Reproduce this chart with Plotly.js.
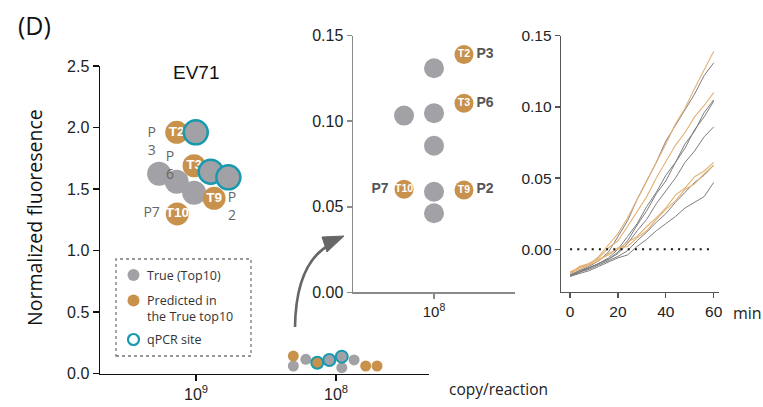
<!DOCTYPE html>
<html><head><meta charset="utf-8">
<script src="https://cdn.plot.ly/plotly-3.0.1.min.js"></script>
<style>html,body{margin:0;padding:0;background:#fff}#c{width:763px;height:407px}</style>
</head><body><div id="c"></div>
<script>
// ---------- data ----------
// Main panel: magnified upper cluster (log10 copy/reaction, normalized fluorescence)
const upGreyLogX = [9.264, 9.138, 9.014];
const upGreyY    = [1.624, 1.559, 1.470];
const upGoldLogX = [9.138, 9.014, 8.871, 9.134];
const upGoldY    = [1.961, 1.689, 1.424, 1.297];
const upGoldLab  = ['T2', 'T3', 'T9', 'T10'];
const upQpcrLogX = [9.002, 8.895, 8.769];
const upQpcrY    = [1.961, 1.641, 1.595];
const upPLab     = ['P<br>3', 'P<br>6', 'P<br>2', 'P7'];
const upPLogX    = [9.317, 9.186, 8.743, 9.317];
const upPY       = [1.880, 1.680, 1.350, 1.297];
// Main panel: bottom cluster near 10^8
const lowGreyLogX = [8.305, 8.216, 7.959, 7.871];
const lowGreyY    = [0.061, 0.115, 0.047, 0.110];
const lowGoldLogX = [8.305, 7.788, 7.707];
const lowGoldY    = [0.142, 0.061, 0.061];
const lowQGoldLogX = [8.134];
const lowQGoldY    = [0.088];
const lowQGreyLogX = [8.048, 7.959];
const lowQGreyY    = [0.110, 0.137];
// Inset
const inGreyLogX = [8, 8, 8, 8, 8, 8.185];
const inGreyY    = [0.131, 0.1047, 0.0857, 0.0588, 0.0462, 0.1033];
const inGoldLogX = [7.815, 7.815, 8.185, 7.815];
const inGoldY    = [0.139, 0.1105, 0.0602, 0.0598];
const inGoldLab  = ['T2', 'T3', 'T10', 'T9'];
const inPLab     = ['P3', 'P6', 'P7', 'P2'];
const inPLogX    = [7.685, 7.685, 8.333, 7.685];
// Time courses (min)
const t = [0,4,8,12,16,20,24,28,32,36,40,44,48,52,56,60];
const goldCurves = [
  [-0.016,-0.013,-0.011,-0.005,0.003,0.011,0.022,0.035,0.047,0.061,0.074,0.088,0.099,0.113,0.126,0.139],
  [-0.017,-0.012,-0.010,-0.006,0.001,0.006,0.016,0.027,0.037,0.050,0.061,0.073,0.082,0.093,0.101,0.110],
  [-0.017,-0.014,-0.011,-0.008,-0.003,0.000,0.005,0.009,0.016,0.022,0.029,0.038,0.043,0.051,0.055,0.061],
  [-0.016,-0.013,-0.010,-0.007,-0.004,0.001,0.002,0.008,0.013,0.021,0.028,0.034,0.042,0.046,0.053,0.059]
];
const greyCurves = [
  [-0.018,-0.015,-0.012,-0.008,-0.002,0.009,0.020,0.035,0.048,0.061,0.076,0.087,0.099,0.109,0.122,0.131],
  [-0.018,-0.016,-0.013,-0.010,-0.006,0.000,0.009,0.018,0.030,0.040,0.052,0.061,0.074,0.083,0.096,0.105],
  [-0.019,-0.016,-0.013,-0.010,-0.007,-0.002,0.006,0.017,0.027,0.039,0.048,0.061,0.071,0.084,0.093,0.104],
  [-0.018,-0.015,-0.013,-0.010,-0.007,-0.003,0.004,0.013,0.021,0.032,0.041,0.050,0.061,0.069,0.079,0.086],
  [-0.019,-0.016,-0.014,-0.011,-0.008,-0.005,-0.001,0.006,0.012,0.019,0.025,0.033,0.040,0.047,0.052,0.059],
  [-0.019,-0.017,-0.015,-0.012,-0.009,-0.006,-0.004,0.002,0.007,0.013,0.018,0.023,0.029,0.033,0.037,0.047]
];
const zeroLineX = [0, 60];
const zeroLineY = [0, 0];

// ---------- styling ----------
const W = 763, H = 407;
const px = v => v / W, py = v => 1 - v / H;
const GREY = '#a2a2a6', GOLD = '#c8924c', TEAL = '#1799b0';
const pow = a => a.map(e => Math.pow(10, e));
const tickF = {family: 'Liberation Sans, Arial, sans-serif', size: 16, color: '#222'};
const segoe = 'Open Sans, Noto Sans, sans-serif';

const traces = [];
function mk(xa, ya, lx, y, size, color, extra) {
  traces.push(Object.assign({x: pow(lx), y: y, xaxis: xa, yaxis: ya, type: 'scatter', mode: 'markers',
    cliponaxis: false, hoverinfo: 'skip',
    marker: {size: size, color: color, line: {width: 0}}}, extra || {}));
}
// upper cluster
mk('x','y', upGreyLogX, upGreyY, 24, GREY);
mk('x','y', upGoldLogX, upGoldY, 23, GOLD, {mode: 'markers+text', text: upGoldLab.map(s=>'<b>'+s+'</b>'),
  textposition: 'middle center', textfont: {family: 'Liberation Sans, Arial', size: 13.5, color: '#fff'}});
mk('x','y', upQpcrLogX, upQpcrY, 24, GREY, {marker: {size: 24, color: GREY, line: {width: 2.5, color: TEAL}}});
traces.push({x: pow(upPLogX), y: upPY, xaxis: 'x', yaxis: 'y', type: 'scatter', mode: 'text', text: upPLab,
  textposition: 'middle center', cliponaxis: false, hoverinfo: 'skip',
  textfont: {family: segoe, size: 14, color: '#666'}});
// lower cluster
mk('x','y', lowGreyLogX, lowGreyY, 11, GREY);
mk('x','y', lowGoldLogX, lowGoldY, 11, GOLD);
mk('x','y', lowQGoldLogX, lowQGoldY, 12, GOLD, {marker: {size: 12, color: GOLD, line: {width: 2, color: TEAL}}});
mk('x','y', lowQGreyLogX, lowQGreyY, 12, GREY, {marker: {size: 12, color: GREY, line: {width: 2, color: TEAL}}});
// inset
mk('x2','y2', inGreyLogX, inGreyY, 20, GREY);
mk('x2','y2', inGoldLogX, inGoldY, 19, GOLD, {mode: 'markers+text', text: inGoldLab.map(s=>'<b>'+s+'</b>'),
  textposition: 'middle center', textfont: {family: 'Liberation Sans, Arial', size: 10.5, color: '#fff'}});
traces.push({x: pow(inPLogX), y: inGoldY, xaxis: 'x2', yaxis: 'y2',
  type: 'scatter', mode: 'text', text: inPLab.map(s=>'<b>'+s+'</b>'), textposition: 'middle center',
  cliponaxis: false, hoverinfo: 'skip', textfont: {family: 'Liberation Sans, Arial', size: 14, color: '#555'}});
// time courses
greyCurves.forEach(c => traces.push({x: t, y: c, xaxis: 'x3', yaxis: 'y3', type: 'scatter', mode: 'lines',
  hoverinfo: 'skip', line: {color: '#7d7d80', width: 1}}));
goldCurves.forEach(c => traces.push({x: t, y: c, xaxis: 'x3', yaxis: 'y3', type: 'scatter', mode: 'lines',
  hoverinfo: 'skip', line: {color: '#e3b274', width: 1.1}}));
traces.push({x: zeroLineX, y: zeroLineY, xaxis: 'x3', yaxis: 'y3', type: 'scatter', mode: 'lines',
  hoverinfo: 'skip', line: {color: '#111', width: 2, dash: '2px,5.2px'}});

const baseAx = {showgrid: false, zeroline: false, showline: true, ticks: 'outside', fixedrange: true};
function ann(text, x, y, font, extra) {
  return Object.assign({text: text, x: px(x), y: py(y), xref: 'paper', yref: 'paper', showarrow: false,
    xanchor: 'center', yanchor: 'middle', font: font}, extra || {});
}
const legF = {family: segoe, size: 12.5, color: '#333'};
const layout = {
  width: W, height: H, margin: {l: 0, r: 0, t: 0, b: 0}, showlegend: false,
  paper_bgcolor: '#fff', plot_bgcolor: 'rgba(0,0,0,0)',
  xaxis: Object.assign({}, baseAx, {type: 'log', domain: [px(100), px(429)], range: [9.686, 7.336], anchor: 'y',
    linecolor: '#111', linewidth: 1.5, tickcolor: '#111', tickwidth: 1.5, ticklen: 6,
    tickvals: [1e9, 1e8], ticktext: ['10<sup>9</sup>', '10<sup>8</sup>'], tickfont: tickF}),
  yaxis: Object.assign({}, baseAx, {domain: [py(373.5), py(66)], range: [0, 2.5], anchor: 'x',
    linecolor: '#111', linewidth: 1.5, tickcolor: '#111', tickwidth: 1.5, ticklen: 6,
    tickvals: [0, 0.5, 1, 1.5, 2, 2.5], tickformat: '.1f', tickfont: tickF}),
  xaxis2: Object.assign({}, baseAx, {type: 'log', domain: [px(353), px(515)], range: [8.5, 7.5], anchor: 'y2',
    linecolor: '#8a8a8a', linewidth: 1.5, tickcolor: '#8a8a8a', tickwidth: 1.5, ticklen: 5,
    tickvals: [1e8], ticktext: ['10<sup>8</sup>'], tickfont: Object.assign({}, tickF, {size: 15})}),
  yaxis2: Object.assign({}, baseAx, {domain: [py(292.3), py(35.7)], range: [0, 0.15], anchor: 'x2',
    linecolor: '#8a8a8a', linewidth: 1.5, tickcolor: '#8a8a8a', tickwidth: 1.5, ticklen: 5,
    tickvals: [0, 0.05, 0.10, 0.15], tickformat: '.2f', tickfont: tickF}),
  xaxis3: Object.assign({}, baseAx, {domain: [px(561), px(719)], range: [-3.8, 62.2], anchor: 'y3',
    linecolor: '#555', linewidth: 1.3, tickcolor: '#555', tickwidth: 1.3, ticklen: 5,
    tickvals: [0, 20, 40, 60], tickfont: Object.assign({}, tickF, {size: 15.5})}),
  yaxis3: Object.assign({}, baseAx, {domain: [py(292), py(35.7)], range: [-0.03, 0.15], anchor: 'x3',
    linecolor: '#555', linewidth: 1.3, tickcolor: '#555', tickwidth: 1.3, ticklen: 5,
    tickvals: [0, 0.05, 0.10, 0.15], tickformat: '.2f', tickfont: Object.assign({}, tickF, {size: 15.5})}),
  annotations: [
    ann('(D)', 34, 25, {family: segoe, size: 25, color: '#111'}),
    ann('EV71', 196, 72, {family: 'Liberation Sans, Arial', size: 19, color: '#111'}),
    ann('Normalized fluoresence', 34, 218, {family: segoe, size: 19.5, color: '#111'}, {textangle: -90}),
    ann('copy/reaction', 498, 389, {family: segoe, size: 15.5, color: '#222'}),
    ann('min', 747, 313, {family: segoe, size: 16, color: '#222'}),
    ann('True (Top10)', 145, 275, legF, {xanchor: 'left'}),
    ann('Predicted in<br>the True top10', 145, 308, legF, {xanchor: 'left', align: 'left'}),
    ann('qPCR site', 145, 339, legF, {xanchor: 'left'})
  ],
  shapes: [
    {type: 'rect', xref: 'paper', yref: 'paper', x0: px(116), x1: px(251), y0: py(356), y1: py(259),
      line: {color: '#777', width: 1.3, dash: 'dot'}},
    {type: 'circle', xref: 'paper', yref: 'paper', x0: px(127.5), x1: px(139.5), y0: py(281), y1: py(269),
      fillcolor: GREY, line: {width: 0}},
    {type: 'circle', xref: 'paper', yref: 'paper', x0: px(127.5), x1: px(139.5), y0: py(306.5), y1: py(294.5),
      fillcolor: GOLD, line: {width: 0}},
    {type: 'circle', xref: 'paper', yref: 'paper', x0: px(128), x1: px(139), y0: py(345), y1: py(334),
      fillcolor: 'rgba(0,0,0,0)', line: {width: 2.2, color: TEAL}},
    {type: 'path', xref: 'paper', yref: 'paper',
      path: 'M ' + px(295) + ',' + py(327) + ' Q ' + px(296) + ',' + py(262) + ' ' + px(331) + ',' + py(244),
      line: {color: '#666', width: 2.6}},
    {type: 'path', xref: 'paper', yref: 'paper',
      path: 'M ' + px(322) + ',' + py(237) + ' L ' + px(344) + ',' + py(236) + ' L ' + px(327) + ',' + py(252) + ' Z',
      fillcolor: '#666', line: {color: '#666', width: 1}}
  ]
};
Plotly.newPlot('c', traces, layout, {staticPlot: true, displayModeBar: false});
</script></body></html>
